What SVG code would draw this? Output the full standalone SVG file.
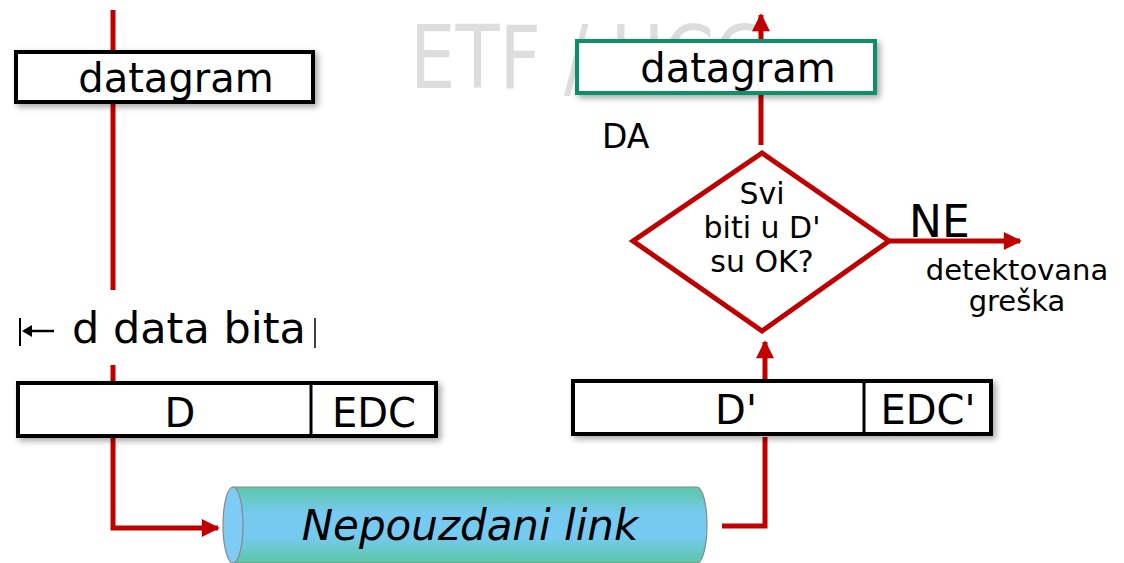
<svg xmlns="http://www.w3.org/2000/svg" width="1124" height="563" viewBox="0 0 1124 563">
<style>
.t{font-family:"DejaVu Sans","Liberation Sans",sans-serif;fill:#000}
.box{fill:#fff;stroke:#000;stroke-width:4}
.red{fill:none;stroke:#c00000;stroke-width:5}
</style>
<defs>
<filter id="sh" x="-10%" y="-30%" width="120%" height="160%">
<feDropShadow dx="3" dy="3" stdDeviation="3" flood-color="#000" flood-opacity="0.35"/>
</filter>
<marker id="ah" viewBox="0 0 10 10" refX="9" refY="5" markerWidth="4" markerHeight="3.6" orient="auto" markerUnits="strokeWidth">
<path d="M0,0 L10,5 L0,10 z" fill="#c00000"/>
</marker>
<linearGradient id="cyl" x1="0" y1="0" x2="0" y2="1">
<stop offset="0" stop-color="#5cc7a6"/>
<stop offset="0.35" stop-color="#76caf0"/>
<stop offset="0.65" stop-color="#76caf0"/>
<stop offset="1" stop-color="#5cc7a6"/>
</linearGradient>
</defs>

<text x="410" y="88" font-family="'DejaVu Sans',sans-serif" font-size="88" fill="#dddddd" textLength="360" lengthAdjust="spacingAndGlyphs">ETF / UCG</text>

<g id="connectors">
<line class="red" x1="113" y1="10" x2="113" y2="290"/>
<polyline class="red" points="113,365 113,528 218,528" marker-end="url(#ah)"/>
<polyline class="red" points="722,526 765,526 765,437"/>
<line class="red" x1="765" y1="383" x2="765" y2="342" marker-end="url(#ah)"/>
<line class="red" x1="761" y1="145" x2="761" y2="15" marker-end="url(#ah)"/>
<line class="red" x1="889" y1="241" x2="1020" y2="241" marker-end="url(#ah)"/>
</g>

<g id="datagram-left">
<rect class="box" x="16" y="52" width="297" height="50" filter="url(#sh)"/>
<text class="t" x="176" y="92" font-size="40" text-anchor="middle">datagram</text>
</g>

<g id="d-bits-label">
<line x1="20" y1="318" x2="20" y2="346" stroke="#000" stroke-width="2"/>
<line x1="24" y1="331" x2="54" y2="331" stroke="#000" stroke-width="2.5"/>
<path d="M22,331 L32,325 L32,337 z" fill="#000"/>
<text class="t" x="72" y="343" font-size="43">d data bita</text>
<line x1="315" y1="318" x2="315" y2="348" stroke="#000" stroke-width="1.5"/>
</g>

<g id="frame-sender">
<rect class="box" x="18" y="383" width="418" height="53" filter="url(#sh)"/>
<line x1="311" y1="383" x2="311" y2="436" stroke="#000" stroke-width="3"/>
<text class="t" x="180" y="427" font-size="40" text-anchor="middle">D</text>
<text class="t" x="374" y="427" font-size="40" text-anchor="middle">EDC</text>
</g>

<g id="link">
<path d="M233,487 L697,487 A10,38 0 0 1 697,563 L233,563 z" fill="url(#cyl)" stroke="#888" stroke-width="1.2"/>
<ellipse cx="233" cy="525" rx="10" ry="38" fill="#7ecbf5" stroke="#888" stroke-width="1.2"/>
<text class="t" x="470" y="540" font-size="42" font-style="italic" text-anchor="middle">Nepouzdani link</text>
</g>

<g id="frame-receiver">
<rect class="box" x="573" y="381" width="418" height="53" filter="url(#sh)"/>
<line x1="864" y1="381" x2="864" y2="434" stroke="#000" stroke-width="3"/>
<text class="t" x="736" y="424" font-size="40" text-anchor="middle">D'</text>
<text class="t" x="928" y="424" font-size="40" text-anchor="middle">EDC'</text>
</g>

<g id="decision">
<polygon points="762,153 889,241 762,331 633,241" fill="#fff" stroke="#c00000" stroke-width="5" stroke-linejoin="miter"/>
<text class="t" x="762" y="204" font-size="30" text-anchor="middle">Svi</text>
<text class="t" x="762" y="238" font-size="30" text-anchor="middle">biti u D'</text>
<text class="t" x="762" y="272" font-size="30" text-anchor="middle">su OK?</text>
</g>

<g id="ne-label">
<text class="t" x="909" y="237" font-size="44">NE</text>
<text class="t" x="1017" y="280" font-size="29" text-anchor="middle">detektovana</text>
<text class="t" x="1017" y="311" font-size="29" text-anchor="middle">greška</text>
</g>

<g id="da-label">
<text class="t" x="602" y="148" font-size="33">DA</text>
</g>

<g id="datagram-right">
<rect x="577" y="41" width="298" height="52" fill="#fff" stroke="#0a8f6a" stroke-width="4" filter="url(#sh)"/>
<text class="t" x="738" y="82" font-size="40" text-anchor="middle">datagram</text>
</g>
</svg>
